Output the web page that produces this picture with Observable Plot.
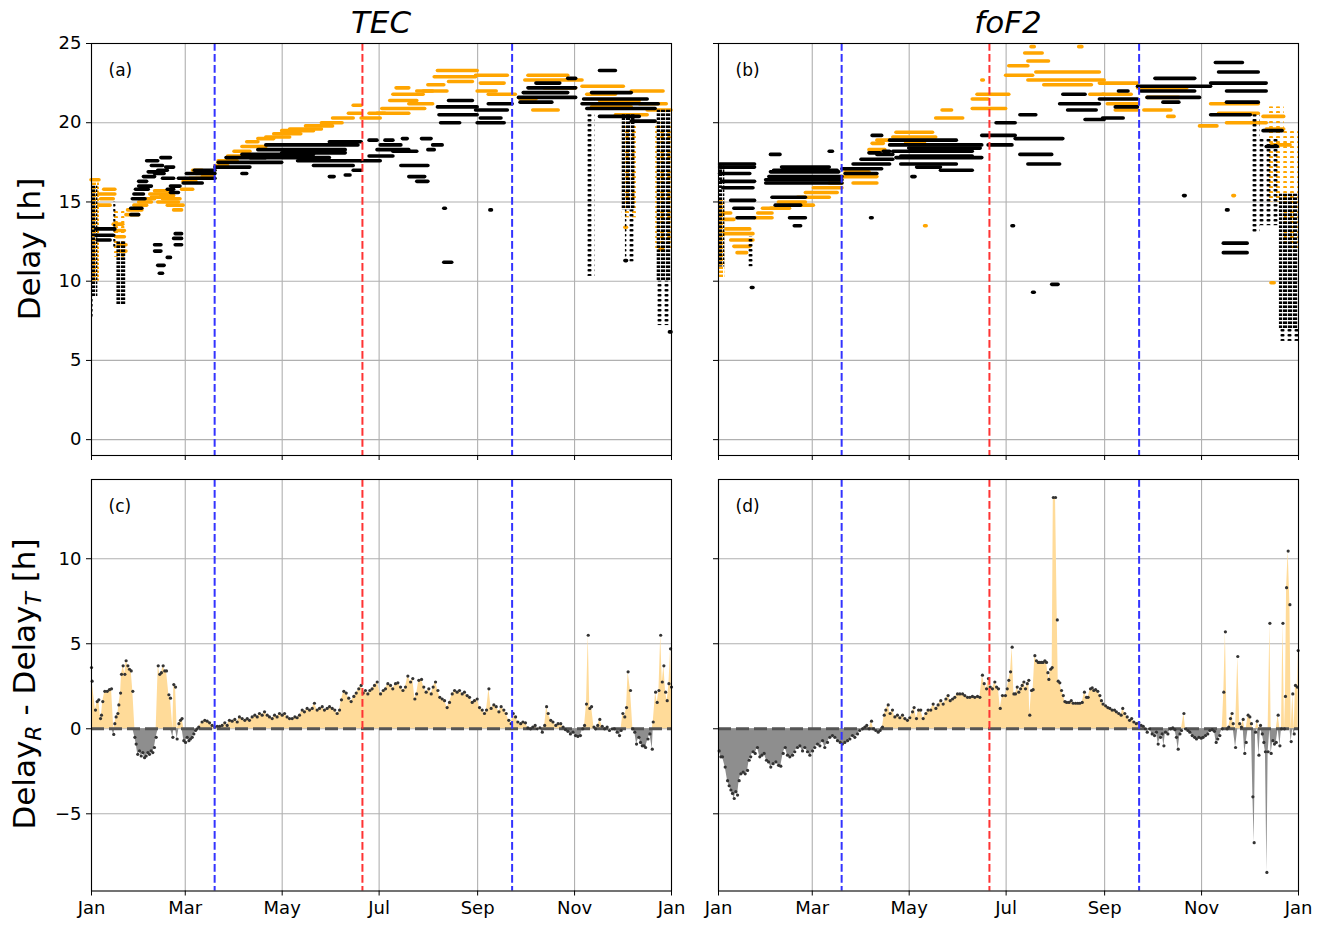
<!DOCTYPE html>
<html><head><meta charset="utf-8">
<script src="https://cdn.jsdelivr.net/npm/d3@7"></script>
<script src="https://cdn.jsdelivr.net/npm/@observablehq/plot@0.6"></script>
<style>
body{margin:0;background:#fff;font-family:"DejaVu Sans",sans-serif;}
#root{position:relative;width:1323px;height:925px;overflow:hidden;}
#root > svg{position:absolute;}
</style></head><body>
<svg width="0" height="0" style="position:absolute">
<defs>
<pattern id="stK" patternUnits="userSpaceOnUse" width="5" height="4"><rect x="0" y="0.4" width="4.2" height="2.6" fill="#000"/></pattern>
<pattern id="stO" patternUnits="userSpaceOnUse" width="5" height="4"><rect x="1" y="1.6" width="4" height="2.6" fill="orange"/></pattern>
<pattern id="spK" patternUnits="userSpaceOnUse" width="7" height="5"><rect x="0.5" y="1" width="4" height="2.4" rx="1" fill="#000"/></pattern>
<pattern id="spO" patternUnits="userSpaceOnUse" width="7" height="5"><rect x="3" y="3" width="4" height="2.4" rx="1" fill="orange"/></pattern>
</defs></svg>
<div id="root"></div>
<script>
// ---------- axes / annotations ----------
const monthTicks = [0, 59, 120, 181, 243, 304, 365];
const monthLabels = ["Jan", "Mar", "May", "Jul", "Sep", "Nov", "Jan"];
const eventDays = [77.5, 170.5, 264.7];
const eventColors = ["#3333ff", "#ff3333", "#3333ff"];
const topYTicks = [0, 5, 10, 15, 20, 25];
const diffYTicks = [-5, 0, 5, 10];
const panelTitles = ["TEC", "foF2"];
const panelLabels = ["(a)", "(b)", "(c)", "(d)"];

// ---------- panel (a): TEC delays; segments [day0, day1, delay]; clusters [day0, day1, lo, hi] ----------
const aOrangeSeg = [[0,5,16.4],[5,15,15.5],[6,14,15.2],[5,12,14.8],[8,15,15.8],[14,20,13.6],[15,21,13.2],[16,21,12.8],[17,22,12.3],[18,22,11.9],
[22,30,14.2],[23,32,14.5],[27,35,14.8],[30,38,15.0],[33,40,15.2],[37,50,15.5],[38,47,15.3],[42,55,15.0],[45,56,15.2],[48,58,14.8],[52,57,14.5],
[40,50,15.7],[44,52,15.4],[57,64,15.8],[58,66,16.3],[62,72,16.5],[66,75,16.8],[70,77,16.6],[64,70,17.0],[78,86,17.3],[80,92,17.6],[86,98,17.9],
[90,100,18.2],[95,110,18.5],[98,105,18.8],[105,115,19.0],[110,125,19.1],[115,132,19.3],[120,140,19.5],[125,145,19.6],[135,152,19.8],[145,158,20.0],
[152,165,20.3],[162,170,20.6],[165,170,21.1],[170,182,20.3],[175,185,20.6],[180,200,20.6],[183,210,20.9],[200,215,21.2],[188,205,21.4],[190,209,21.8],
[205,215,22.0],[192,200,22.2],[209,224,22.0],[212,222,22.4],[225,240,22.6],[216,242,22.9],[218,243,23.3],[242,262,23.0],[245,260,22.5],[243,255,22.0],
[250,267,21.8],[273,309,22.7],[275,300,23.0],[278,294,20.8],[285,305,22.2],[270,280,21.5],[309,335,22.3],[312,330,21.8],[320,345,21.4],[315,340,21.0],
[330,350,20.5],[340,360,22.0],[345,362,21.2],[350,365,20.8],[336,337,13.4],[358,360,12.0]];
const aOrangeDense = [[0,5,10,16.5]];
const aOrangeSparse = [[14,21,11.5,14.5],[334,343,14,20],[355,365,12,20]];
const aBlackSeg = [[3,15,13.3],[3,14,12.9],[4,12,12.6],[25,30,14.2],[25,32,14.6],[26,34,15.2],[27,33,15.5],[28,36,15.8],[30,38,16.0],[30,35,16.3],
[33,40,16.6],[36,44,16.9],[38,45,17.3],[35,42,17.6],[40,46,16.8],[42,48,17.0],[44,50,17.8],[45,52,16.5],[47,52,17.2],[48,52,15.8],[50,56,16.0],
[50,55,15.6],[40,44,12.3],[40,44,11.9],[42,46,11.0],[43,45,10.5],[53,57,13.0],[52,57,12.7],[53,57,12.3],[48,50,11.5],
[55,78,16.5],[60,78,16.8],[58,70,16.2],[65,78,17.0],[78,100,17.2],[80,120,17.5],[85,110,17.8],[95,140,18.0],[100,150,17.8],[105,160,18.3],[110,168,18.6],
[120,160,18.1],[130,170,17.6],[140,165,17.3],[150,170,18.8],[95,98,16.8],[150,153,16.6],[160,163,16.7],[165,170,17.0],
[170,182,17.6],[175,190,17.9],[180,200,18.3],[182,195,18.6],[190,205,18.2],[195,212,17.3],[200,210,16.6],[205,212,16.3],[215,221,18.6],[196,199,19.0],
[175,180,18.9],[185,190,18.9],[208,214,19.0],[212,216,18.3],
[218,243,21.0],[219,243,20.5],[225,240,21.4],[220,232,20.0],[222,223,14.6],[222,227,11.2],[242,262,20.8],[245,258,20.3],[250,265,21.2],[243,260,20.0],
[251,252,14.5],[269,305,21.6],[272,300,21.9],[275,305,22.2],[280,295,22.5],[270,290,21.3],[309,357,21.2],[310,350,21.5],[312,355,20.9],[320,345,20.4],
[315,340,21.9],[320,330,23.3],[340,355,20.1],[300,305,22.8],[336,337,11.3],[364,365,6.8]];
const aBlackDense = [[0,4,9,16],[16,22,8.5,12.5],[334,342,14.5,20.5],[356,365,10,20.8]];
const aBlackSparse = [[0,1,7.6,9],[14,16,12,15],[311,317,10.3,20.5],[336,342,11.2,14.5],[356,365,7.2,10]];

// ---------- panel (b): foF2 delays ----------
const bOrangeSeg = [[4,22,13.0],[5,20,13.3],[8,22,12.6],[10,20,12.2],[12,18,11.8],[4,10,13.9],[3,8,14.3],[23,34,14.0],[25,34,14.3],[28,36,14.6],
[33,45,14.6],[38,55,15.0],[45,60,14.8],[50,70,15.3],[55,75,15.6],[60,78,15.9],[70,78,16.2],[78,100,16.6],[80,95,16.9],[85,100,16.2],[95,105,18.3],
[97,104,18.7],[100,108,18.9],[110,137,19.1],[112,135,19.4],[118,130,18.8],[137,154,20.3],[141,147,20.8],[160,181,20.9],[160,170,21.5],[163,183,21.8],
[166,167,22.7],[181,198,23.0],[183,195,23.6],[193,204,24.4],[197,199,24.8],[195,208,23.9],[195,243,22.7],[200,240,23.2],[205,235,22.4],[227,229,24.8],
[234,243,21.8],[130,131,13.5],[240,264,22.5],[242,260,21.8],[245,264,21.2],[250,264,20.8],[264,295,22.2],[268,285,20.8],[283,287,20.4],[270,290,21.6],
[303,314,19.8],[310,340,21.2],[315,340,20.6],[320,345,20.0],[324,325,15.4],[348,350,9.9],[343,356,20.4],[345,356,19.6],[348,360,18.6]];
const bOrangeDense = [[0,4,10.2,15.1]];
const bOrangeSparse = [[345,356,15,21],[356,365,12,19.5]];
const bBlackSeg = [[1,23,17.4],[1,23,17.2],[1,20,16.8],[2,23,16.3],[3,22,15.9],[8,23,15.1],[10,22,14.6],[12,23,14.0],[21,22,9.6],[30,78,16.2],
[30,78,16.4],[32,78,16.6],[33,76,16.9],[35,75,17.0],[40,70,17.2],[34,55,15.3],[36,52,14.8],[45,55,14.0],[48,52,13.5],[33,39,18.0],[70,72,18.2],
[78,103,17.1],[80,100,16.8],[85,108,17.4],[90,110,17.7],[100,110,18.0],[95,102,18.1],[97,103,19.2],[104,108,18.2],[96,97,14.0],[108,166,18.6],[108,150,18.9],
[110,160,18.2],[120,165,18.4],[112,166,17.8],[115,160,17.9],[115,150,17.4],[125,140,17.2],[140,160,17.0],[122,124,16.6],[166,187,19.2],[170,185,18.6],
[175,187,20.0],[187,217,19.0],[190,210,18.0],[195,215,17.4],[190,200,20.5],[217,231,21.8],[215,240,21.2],[220,238,20.8],[231,243,20.2],[185,186,13.5],
[210,214,9.8],[198,199,9.3],[240,264,21.5],[242,255,20.3],[250,264,21.0],[252,258,22.0],[264,310,22.3],[266,300,22.0],[270,303,21.6],[275,300,22.8],
[280,290,21.3],[310,345,22.5],[313,330,23.8],[315,340,23.2],[320,345,22.0],[320,340,21.3],[310,335,20.5],[293,294,15.4],[318,333,12.4],[318,333,11.8],
[320,321,14.5],[343,355,19.5],[345,352,18.5]];
const bBlackDense = [[0,4,10.9,17.4],[353,365,7,15.5]];
const bBlackSparse = [[19,23,10.9,12.8],[335,341,13,20.5],[341,353,13.5,19],[353,365,6.2,7]];

// ---------- panel (c): Delay_R - Delay_T, TEC ----------
const cDay = [0,0.4,2.5,3.6,4.6,5.7,6.3,7.1,8.4,9.9,11.3,12.6,14,14.7,15.5,16.6,17.2,18.3,18.9,19.9,21,21.8,22.9,23.9,25,26,
27.3,28.1,29.1,30.2,31.3,32.3,33.4,34.4,35.5,36.5,37.5,38.6,39.6,40.7,42,43,44,45.1,46.1,47.2,48.7,49.7,51.2,51.8,52.9,53.9,55,56,57,
58.1,59.2,60.2,61.3,62.3,63.4,64.4,65.5,66.5,67.5,69.6,71.3,72.8,74.3,75.9,77.6,79.1,80.6,82.2,83.9,85.4,86.8,88.5,90.2,91.7,93.1,94.8,
96.5,98,99.4,101.1,102.8,104.3,105.7,107.4,108.9,110.6,112,113.7,115.2,116.8,118.3,120,121.5,123.1,124.6,126.3,128,129.4,130.9,132.6,134,
135.7,137.2,138.9,140.3,142,143.5,145.2,146.6,148.3,149.8,151.5,153.1,154.6,156.1,157.3,158.8,160.3,161.9,163.4,165.1,166.6,168.2,169.7,
171,172.4,173.9,175.2,176.6,178.1,179.8,181.9,183.6,185,186.5,188.2,189.6,191.3,192.8,194.5,196,197.6,199.1,200.8,202.2,203.5,204.6,206,
207.7,209.1,210.6,212.3,213.8,215,216.5,218,219.2,220.7,222.2,223.8,225.3,227,228.5,230.1,231.6,233.3,234.7,236.4,237.9,239.6,241,242.7,
244.2,245.9,247.3,248.6,250.1,251.5,253.2,254.7,256.4,257.8,259.5,261,262.6,264.1,265.4,266.9,268.3,270.1,271.5,273.1,274.6,276.3,277.7,
279.2,280.5,282.2,283.7,285.2,286.4,287.4,289,290.4,292.2,293.6,295.3,296.8,298.3,299.8,301.4,303,304.6,306.1,307.7,309.2,310.3,311.5,
312.6,313.6,314.7,316.2,317.2,318.6,319.9,321.4,322.9,324.5,326,327.7,329.1,330.8,332.3,333.3,334.4,335.6,336.7,337.7,339.2,340.7,341.9,
343,344.5,345.5,346.6,347.7,348.7,350.2,351.4,352.9,353.5,355,356,357.1,358.2,359.2,360.2,361.3,362.3,363.4,364.4,365];
const cDiff = [3.6,2.8,1.1,1.6,1.7,0.6,0.8,1.6,2.2,2.2,2.3,2.35,-0.33,0.3,0.7,0.9,1.4,2.1,3.2,3.7,3.2,4.0,3.7,3.5,3.4,2.2,
-0.5,-0.9,-1.5,-1.3,-1.6,-1.4,-1.7,-1.6,-1.4,-1.5,-1.3,-1.4,-1.1,-0.5,3.7,3.2,3.3,3.7,3.4,3.4,2.0,1.8,-0.5,2.6,2.45,-0.6,0.3,0.5,0.6,
-0.7,-0.8,-0.5,-0.7,-0.6,-0.5,-0.3,-0.1,0,0.1,0.4,0.5,0.45,0.35,0.2,0.1,0.15,0.15,0.2,0.35,0.2,0.5,0.45,0.55,0.4,0.7,0.6,
0.5,0.6,0.5,0.7,0.8,0.7,0.9,0.8,1.0,0.8,0.7,0.6,0.8,0.7,0.9,0.8,0.9,0.7,0.6,0.6,0.7,0.65,0.8,1.1,1.0,
1.2,1.1,1.2,1.5,1.1,1.2,1.3,1.1,1.2,1.3,1.2,1.1,0.9,1.1,1.7,2.2,2.1,1.8,1.6,1.9,2.1,2.35,2.55,
2.1,2.25,2.05,2.25,2.35,2.55,2.75,2.05,2.25,2.35,2.65,2.55,2.35,2.65,2.7,2.45,2.25,2.45,3.1,2.75,2.95,1.75,2.05,2.85,
2.9,2.45,2.15,2.35,2.05,2.45,2.75,2.25,1.85,1.75,1.65,1.25,1.55,2.05,2.25,2.15,2.25,2.05,2.15,1.95,1.85,1.55,1.65,1.75,
1.25,1.1,0.9,1.1,2.35,1.2,1.4,1.3,1.0,1.3,1.1,0.9,0.5,0.3,0.9,0.7,0.4,0.3,0.4,0.35,0.05,0,0.1,
0.2,0,0.05,-0.2,0.2,1.3,0.9,0.5,0.4,0.2,0.3,0.3,0.1,-0.05,-0.15,-0.3,-0.2,-0.4,-0.45,-0.4,0,0.2,1.45,
5.5,1.2,1.3,0.1,0,0.2,0.55,0.15,0,0.1,-0.1,0,0,-0.2,-0.4,-0.1,0.9,0.7,1.25,3.35,2.25,0,-0.2,
-0.9,-0.5,-0.8,-1.0,-1.0,-1.1,-0.6,-0.3,-1.2,0.4,2.15,1.55,2.25,5.5,2.75,3.7,2.15,1.65,2.65,4.7,2.45];

// ---------- panel (d): Delay_R - Delay_T, foF2 ----------
const dDay = [0.4,1.5,2.5,4.2,5.7,6.7,7.8,8.8,9.9,10.9,12,13,14.1,15.5,16.8,18.3,19.3,20.3,21.8,23.1,24.5,26,27.3,28.7,30.2,31.5,32.9,
34.4,36.1,37.8,39.2,40.7,42,43.4,44.9,46.6,48,49.7,51.2,52.9,54.3,56,57.5,59.2,60.6,62.3,63.8,65.5,66.9,68.6,70.1,71.7,73.2,74.9,76.6,
78,79.5,81.2,82.7,84.3,85.8,87.5,88.9,90.6,92.1,93.3,94.8,96.3,97.5,99,100.5,101.7,103.2,104.3,105.3,106.8,108,109.5,111,112.6,114.1,
115.8,117.3,118.9,120.4,122.1,123.1,124.6,125.9,127.3,128.8,130.5,131.9,133.6,135.1,136.8,138.2,139.9,141.4,143.1,144.5,145.8,147.3,
148.7,150.4,151.9,153.6,155,156.7,158.2,159.8,161.3,163,164.5,166.1,167.2,168.7,169.9,171,172.4,173.9,175,176.2,177.3,178.7,180.6,181.7,
182.7,183.8,184.8,185.9,186.9,188,189,190.1,191.1,192.2,193.2,194.3,195.3,195.9,197,198,199.1,200.1,201.2,202.2,203.3,204.3,205.4,206.4,
207.3,207.9,209,210,210.7,212.1,213.2,213.8,214.8,215.9,217,218,219.1,220.6,222,223.2,224.7,226.1,227.4,228.9,230.3,231.6,232.6,234.1,
235.2,236.2,237.3,238.7,240,241,242,243.6,245,246.3,247.7,249.2,250.4,251.9,253.4,254.4,255.7,257.2,258.7,260,261.4,262.9,264.5,266,
267.3,268.7,269.8,271.3,272.9,274.4,275.6,276.7,278.2,279.2,280.3,281.3,282.8,284.5,285.9,287.2,288.2,289.3,290.4,291.4,292.9,293.9,
295.4,296.6,298.1,299.6,300.8,302.3,303.8,305,306.5,307.9,309.2,310.7,312.1,313.2,314.2,315.5,317,318,319,320.1,321.1,322.2,323.2,
323.9,325.4,326.8,328,329.1,330.2,331.2,332.1,333.3,334.4,335.4,336.3,337.1,338,339,340.1,341.1,342.2,343.2,344.2,345.1,345.9,347,
347.8,348.9,349.9,351,352.2,353.3,354.3,355.2,356.2,356.8,357.5,358.5,359.6,360.4,361.4,362.3,363.1,364.2,364.8];
const dDiff = [-1.3,-1.65,-1.65,-2.25,-3.05,-3.35,-3.6,-3.8,-4.1,-3.7,-3.9,-3.05,-2.65,-2.55,-2.65,-2.45,-1.85,-1.65,-1.35,-1.45,-1.1,-1.65,-1.55,
-1.45,-1.85,-1.95,-2.25,-2.05,-1.95,-2.15,-2.2,-1.45,-1.1,-1.55,-1.65,-1.55,-1.35,-1.1,-1.0,-1.3,-1.1,-1.35,-1.55,-1.3,-1.1,-0.9,-1.0,-0.7,
-1.1,-0.8,-0.5,-0.4,-0.5,-0.7,-0.8,-0.9,-0.8,-0.7,-0.6,-0.4,-0.5,-0.3,-0.1,0,0.1,0.2,0,0.45,0,-0.1,-0.2,-0.1,0.1,0.8,1.1,1.4,0.9,1.1,
0.7,0.8,0.65,0.8,0.6,0.5,0.65,1.0,1.25,0.6,1.1,1.1,0.6,0.9,1.1,1.1,1.45,1.2,1.4,1.65,1.45,1.75,1.95,1.65,1.75,1.85,2.05,2.05,2.05,1.95,
1.85,1.85,1.9,1.85,1.9,1.85,3.15,2.65,2.35,2.95,2.45,2.35,2.75,2.45,2.35,1.2,1.95,1.95,2.35,2.85,3.35,4.8,2.05,2.05,2.45,2.15,2.35,2.55,
2.75,2.35,2.65,2.85,0.8,2.25,2.3,4.3,4.0,3.9,3.9,3.9,3.9,4.0,3.9,3.3,2.9,3.5,3.6,13.6,13.6,6.4,2.8,2.7,2.25,1.95,1.6,1.55,1.55,1.65,1.5,
1.5,1.5,1.5,1.55,2.15,1.85,1.85,2.35,2.4,2.25,2.3,2.2,1.95,1.65,1.45,1.35,1.25,1.2,1.1,1.1,1.0,0.9,0.8,1.2,0.9,0.7,0.5,0.6,0.4,0.3,0.35,
0.2,0.15,0,-0.2,0,-0.3,-0.4,-0.2,-0.9,-0.5,-0.3,-1.0,-0.2,-0.3,0,0.05,-0.05,-0.5,-1.2,-0.3,-0.1,0.9,0,-0.1,-0.2,-0.4,-0.5,-0.6,-0.5,
-0.55,-0.5,-0.4,-0.3,-0.1,-0.05,-0.15,-0.8,-0.6,-0.4,0,2.15,5.7,0,0.1,0.6,0.9,0.3,-1.1,4.25,0.3,0.1,0.55,-1.45,-0.8,0.8,0.7,0.3,-4.0,
-6.7,-0.2,0.45,-1.55,0.2,-0.3,-0.8,-1.35,-8.45,-1.35,6.2,-1.45,-0.7,-0.9,-0.8,0.8,-1.0,0,6.2,0,1.9,8.3,10.45,7.3,-0.75,2.05,-0.3,2.55,
2.45,4.6];

// ---------- drawing ----------
const root = document.getElementById("root");
const FONT = "DejaVu Sans";

function toSeries(days, vals) { return days.map((d, i) => ({day: d, v: vals[i]})); }

function scatterMarks(oSeg, oDense, oSparse, kSeg, kDense, kSparse) {
  const seg = (data, color) => Plot.ruleY(data, {x1: d => d[0], x2: d => d[1], y: d => d[2], stroke: color, strokeWidth: 3.6, strokeLinecap: "round"});
  const cluster = (data, fill) => Plot.rect(data, {x1: d => d[0], x2: d => d[1], y1: d => d[2], y2: d => d[3], fill});
  return [cluster(oSparse, "url(#spO)"), cluster(oDense, "url(#stO)"), seg(oSeg, "orange"),
          cluster(kSparse, "url(#spK)"), cluster(kDense, "url(#stK)"), seg(kSeg, "black")];
}

function diffMarks(series) {
  return [
    Plot.areaY(series, {x: "day", y1: 0, y2: d => Math.max(d.v, 0), fill: "#ffdb99", curve: "linear"}),
    Plot.areaY(series, {x: "day", y1: 0, y2: d => Math.min(d.v, 0), fill: "#8e8e8e", curve: "linear"}),
    Plot.ruleY([0], {stroke: "#555", strokeWidth: 3, strokeDasharray: "13,5"}),
    Plot.dot(series, {x: "day", y: "v", r: 1.6, fill: "#333", stroke: "none"})
  ];
}

function makePanel({left, top, h, yDomain, yTicks, yLabels, xLabels, label, marks}) {
  const ml = yLabels ? 50 : 40, mr = 5, mt = 10, mb = xLabels ? 40 : 6;
  const fig = Plot.plot({
    width: 580 + ml + mr, height: h + mt + mb,
    marginLeft: ml, marginRight: mr, marginTop: mt, marginBottom: mb,
    style: {background: "transparent", fontFamily: FONT, overflow: "visible", color: "#000"},
    x: {domain: [0, 365]},
    y: {domain: yDomain},
    marks: [
      Plot.gridX(monthTicks, {stroke: "#b0b0b0", strokeOpacity: 1, strokeWidth: 1.1}),
      Plot.gridY(yTicks, {stroke: "#b0b0b0", strokeOpacity: 1, strokeWidth: 1.1}),
      ...marks,
      ...eventDays.map((d, i) => Plot.ruleX([d], {stroke: eventColors[i], strokeWidth: 2, strokeDasharray: "7.7,3.3"})),
      Plot.frame({stroke: "#000", strokeWidth: 1.1}),
      Plot.axisX({ticks: monthTicks, tickSize: 5, tickPadding: 5, fontSize: 18, label: null,
        tickFormat: xLabels ? (d => monthLabels[monthTicks.indexOf(d)]) : (() => "")}),
      Plot.axisY({ticks: yTicks, tickSize: 5, tickPadding: 5, fontSize: 18, label: null,
        tickFormat: yLabels ? (d => d < 0 ? "\u2212" + (-d) : String(d)) : (() => "")}),
      Plot.text([label], {text: d => d, frameAnchor: "top-left", dx: 17, dy: 27, fontSize: 17, textAnchor: "start", lineAnchor: "middle", fill: "#000"})
    ]
  });
  fig.style.left = (left - ml) + "px";
  fig.style.top = (top - mt) + "px";
  fig.style.position = "absolute";
  root.appendChild(fig);
}

const topDomain = [-1, 25];
const diffDomain = [-9.54, 14.66];

makePanel({left: 91, top: 43, h: 412, yDomain: topDomain, yTicks: topYTicks, yLabels: true, xLabels: false, label: panelLabels[0],
  marks: scatterMarks(aOrangeSeg, aOrangeDense, aOrangeSparse, aBlackSeg, aBlackDense, aBlackSparse)});
makePanel({left: 718, top: 43, h: 412, yDomain: topDomain, yTicks: topYTicks, yLabels: false, xLabels: false, label: panelLabels[1],
  marks: scatterMarks(bOrangeSeg, bOrangeDense, bOrangeSparse, bBlackSeg, bBlackDense, bBlackSparse)});
makePanel({left: 91, top: 479, h: 411.5, yDomain: diffDomain, yTicks: diffYTicks, yLabels: true, xLabels: true, label: panelLabels[2],
  marks: diffMarks(toSeries(cDay, cDiff))});
makePanel({left: 718, top: 479, h: 411.5, yDomain: diffDomain, yTicks: diffYTicks, yLabels: false, xLabels: true, label: panelLabels[3],
  marks: diffMarks(toSeries(dDay, dDiff))});

// titles and y labels
const ns = "http://www.w3.org/2000/svg";
const ov = document.createElementNS(ns, "svg");
ov.setAttribute("width", 1323); ov.setAttribute("height", 925);
ov.style.left = "0px"; ov.style.top = "0px"; ov.style.pointerEvents = "none";
ov.innerHTML = `
<text x="381" y="33" text-anchor="middle" font-family="${FONT}" font-size="31" font-style="italic">${panelTitles[0]}</text>
<text x="1008" y="33" text-anchor="middle" font-family="${FONT}" font-size="31" font-style="italic">${panelTitles[1]}</text>
<text transform="translate(40,249) rotate(-90)" text-anchor="middle" font-family="${FONT}" font-size="31">Delay [h]</text>
<text transform="translate(35,684) rotate(-90)" text-anchor="middle" font-family="${FONT}" font-size="31">Delay<tspan font-style="italic" font-size="22" dy="6">R</tspan><tspan dy="-6"> - Delay</tspan><tspan font-style="italic" font-size="22" dy="6">T</tspan><tspan dy="-6"> [h]</tspan></text>`;
root.appendChild(ov);
</script>
</body></html>
